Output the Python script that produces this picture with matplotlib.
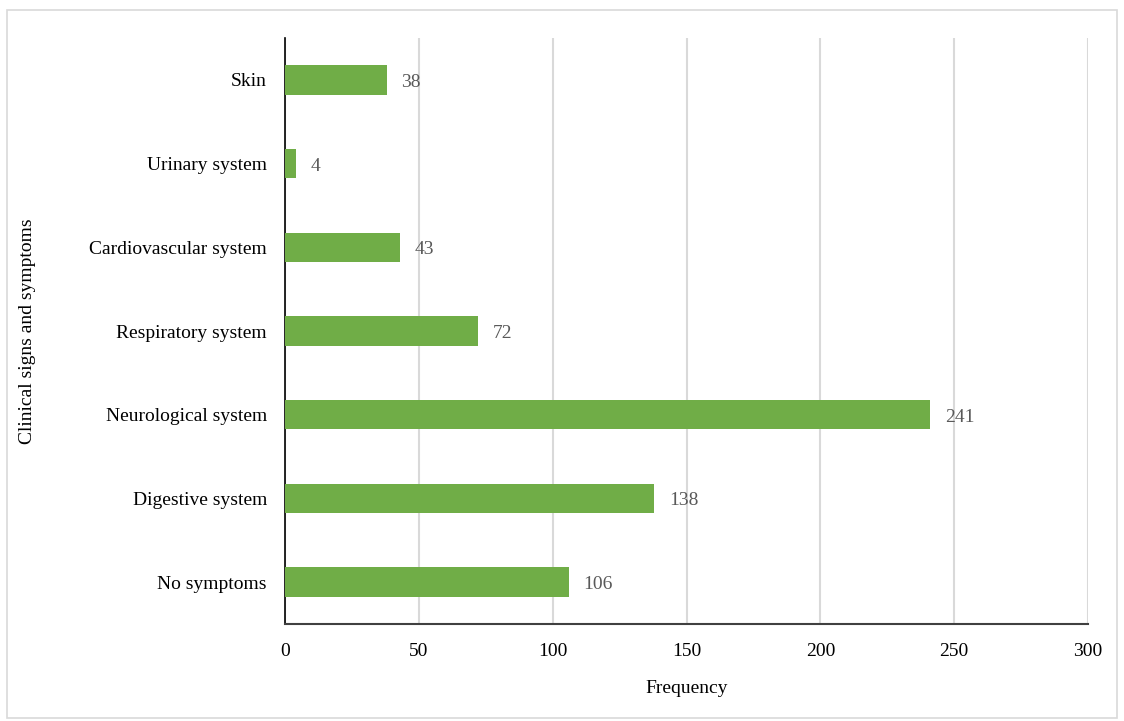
import matplotlib
matplotlib.use("Agg")
import matplotlib.pyplot as plt
from matplotlib.patches import Rectangle

categories = ["No symptoms", "Digestive system", "Neurological system",
              "Respiratory system", "Cardiovascular system", "Urinary system", "Skin"]
values = [106, 138, 241, 72, 43, 4, 38]
xticks = [0, 50, 100, 150, 200, 250, 300]

plt.rcParams['font.family'] = ['Liberation Serif', 'DejaVu Serif']
FS = 14

fig = plt.figure(figsize=(11.24, 7.21), dpi=100)
fig.patches.append(Rectangle((7/1124, 1 - 718/721), 1110/1124, 708/721,
                             transform=fig.transFigure, fill=False,
                             edgecolor='#d9d9d9', linewidth=1.2))
ax = fig.add_axes([285/1124, 1 - 624/721, (1088 - 285)/1124, (624 - 38)/721])

y = range(len(categories))
bars = ax.barh(y, values, height=0.35, color='#70AD47', zorder=3)
for yi, v in zip(y, values):
    ax.text(v + 5.5, yi - 0.03, str(v), va='center', ha='left', fontsize=FS, color='#595959')

ax.set_xlim(0, 300)
ax.set_ylim(-0.5, len(categories) - 0.5)
ax.set_xticks(xticks)
ax.set_xticklabels([str(t) for t in xticks], fontsize=FS)
ax.set_yticks(list(y))
ax.set_yticklabels(categories, fontsize=FS)
ax.tick_params(axis='x', length=0, pad=14)
ax.tick_params(axis='y', length=0, pad=13)
ax.xaxis.grid(True, color='#d9d9d9', linewidth=1.5, zorder=0)
ax.set_axisbelow(True)
for s in ['top', 'right']:
    ax.spines[s].set_visible(False)
ax.spines['left'].set_color('black')
ax.spines['left'].set_linewidth(1.2)
ax.spines['bottom'].set_color('#404040')
ax.spines['bottom'].set_linewidth(1.5)
ax.set_xlabel("Frequency", fontsize=FS, labelpad=14)
ax.set_ylabel("Clinical signs and symptoms", fontsize=FS)
ax.yaxis.set_label_coords(-249/803, 0.5)

fig.savefig("out.png", dpi=100)
